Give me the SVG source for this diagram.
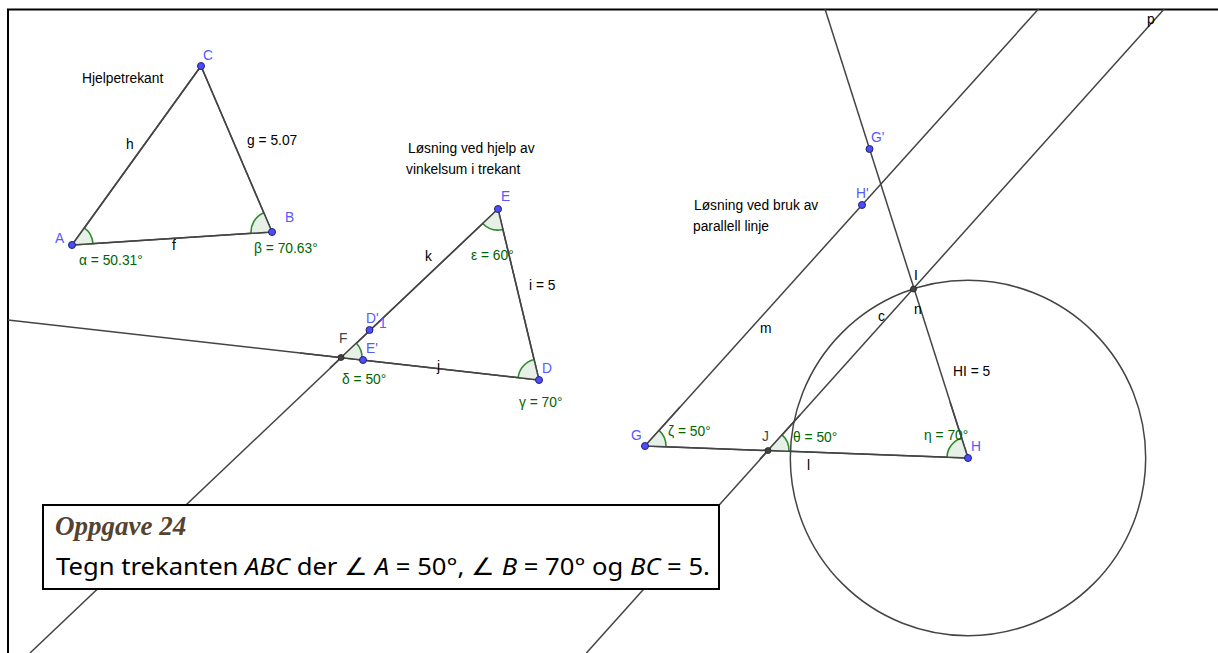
<svg xmlns="http://www.w3.org/2000/svg" width="1218" height="653" viewBox="0 0 1218 653">
<style>
.ln{stroke:#444;stroke-width:1.5;fill:none}
.sec{fill:#e6f0e6;stroke:none}
.arc{fill:none;stroke:#2e8b2e;stroke-width:1.6}
.pt{fill:#4d4dff;stroke:#22226a;stroke-width:1}
.dp{fill:#444;stroke:#222;stroke-width:0.8}
text{font-family:"Liberation Sans",Arial,sans-serif;font-size:13.8px}
.bl{fill:#5858ff}
.gr{fill:#006400}
.bk{fill:#000}
.dk{fill:#444}
</style>
<rect width="1218" height="653" fill="#fff"/>
<path d="M8,653 L8,9.5 L1218,9.5" fill="none" stroke="#000" stroke-width="2"/>
<g id="connectors">
<line class="ln" x1="72" y1="245" x2="272" y2="232"/>
<line class="ln" x1="72" y1="245" x2="201" y2="66"/>
<line class="ln" x1="272" y1="232" x2="201" y2="66"/>
<line class="ln" x1="8" y1="320" x2="539" y2="380"/>
<line class="ln" x1="498" y1="209" x2="30" y2="653"/>
<line class="ln" x1="498" y1="209" x2="539" y2="380"/>
<line class="ln" x1="645" y1="446" x2="968" y2="458"/>
<line class="ln" x1="645" y1="446" x2="1038.5" y2="9"/>
<line class="ln" x1="586.4" y1="653" x2="1164.2" y2="9"/>
<line class="ln" x1="825" y1="9" x2="968" y2="458"/>
<circle class="ln" cx="968" cy="458" r="177.7"/>
</g>
<g id="angles">
<path class="sec" d="M72,245 L92.96,243.74 A21,21 0 0 0 84.29,227.97 Z"/><path class="arc" d="M92.96,243.74 A21,21 0 0 0 84.29,227.97"/>
<path class="sec" d="M272,232 L251.04,233.36 A21,21 0 0 1 263.74,212.68 Z"/><path class="arc" d="M251.04,233.36 A21,21 0 0 1 263.74,212.68"/>
<path class="sec" d="M341,357.5 L361.86,359.87 A21,21 0 0 0 356.26,343.07 Z"/><path class="arc" d="M361.86,359.87 A21,21 0 0 0 356.26,343.07"/>
<path class="sec" d="M539,380 L518.14,377.63 A21,21 0 0 1 534.10,359.58 Z"/><path class="arc" d="M518.14,377.63 A21,21 0 0 1 534.10,359.58"/>
<path class="sec" d="M498,209 L482.74,223.43 A21,21 0 0 0 502.90,229.42 Z"/><path class="arc" d="M482.74,223.43 A21,21 0 0 0 502.90,229.42"/>
<path class="sec" d="M645,446 L665.99,446.78 A21,21 0 0 0 659.05,430.39 Z"/><path class="arc" d="M665.99,446.78 A21,21 0 0 0 659.05,430.39"/>
<path class="sec" d="M768,450.6 L788.99,451.38 A21,21 0 0 0 782.03,434.97 Z"/><path class="arc" d="M788.99,451.38 A21,21 0 0 0 782.03,434.97"/>
<path class="sec" d="M968,458 L947.01,457.22 A21,21 0 0 1 961.50,438.03 Z"/><path class="arc" d="M947.01,457.22 A21,21 0 0 1 961.50,438.03"/>
</g>
<g id="connectors-top">
<line class="ln" x1="72" y1="245" x2="272" y2="232"/>
<line class="ln" x1="72" y1="245" x2="201" y2="66"/>
<line class="ln" x1="272" y1="232" x2="201" y2="66"/>
<line class="ln" x1="300" y1="353" x2="539" y2="380"/>
<line class="ln" x1="498" y1="209" x2="330" y2="368"/>
<line class="ln" x1="498" y1="209" x2="539" y2="380"/>
<line class="ln" x1="645" y1="446" x2="968" y2="458"/>
<line class="ln" x1="645" y1="446" x2="680" y2="407"/>
<line class="ln" x1="760" y1="459" x2="800" y2="415"/>
<line class="ln" x1="950" y1="402" x2="968" y2="458"/>
</g>
<g id="box">
<rect x="43" y="505" width="676" height="84" fill="#fff" stroke="#000" stroke-width="2"/>
<text x="55" y="535" style="font-family:'Liberation Serif','Times New Roman',serif;font-size:27px;font-weight:bold;font-style:italic;fill:#54432f">Oppgave 24</text>
<text x="56" y="575" textLength="654" lengthAdjust="spacingAndGlyphs" style="font-family:'Noto Sans',sans-serif;font-size:23.5px;fill:#000">Tegn trekanten <tspan font-style="italic">ABC</tspan> der ∠ <tspan font-style="italic">A</tspan> = 50°, ∠ <tspan font-style="italic">B</tspan> = 70° og <tspan font-style="italic">BC</tspan> = 5.</text>
</g>
<g id="node-A"><circle class="pt" cx="72" cy="245" r="3.5"/><text class="bl" x="55" y="243">A</text><text class="gr" x="79" y="265">α = 50.31°</text></g>
<g id="node-B"><circle class="pt" cx="272" cy="232" r="3.5"/><text class="bl" x="285" y="222">B</text><text class="gr" x="254" y="253">β = 70.63°</text></g>
<g id="node-C"><circle class="pt" cx="201" cy="66" r="3.5"/><text class="bl" x="203" y="60">C</text></g>
<g id="labels-ABC"><text class="bk" x="82" y="83">Hjelpetrekant</text><text class="bk" x="126" y="149">h</text><text class="bk" x="247" y="145">g = 5.07</text><text class="bk" x="172" y="250">f</text></g>
<g id="node-E"><circle class="pt" cx="498" cy="209" r="3.5"/><text class="bl" x="501" y="201">E</text><text class="gr" x="471" y="260">ε = 60°</text></g>
<g id="node-D"><circle class="pt" cx="539" cy="380" r="3.5"/><text class="bl" x="542" y="373">D</text><text class="gr" x="519" y="407">γ = 70°</text></g>
<g id="node-F"><circle class="dp" cx="341" cy="357.5" r="3"/><text class="dk" x="339" y="343">F</text><text class="gr" x="342" y="384">δ = 50°</text></g>
<g id="node-D1"><circle class="pt" cx="369.5" cy="330" r="3.5"/><text class="bl" x="366" y="323">D'</text><text class="bl" x="379" y="328">1</text></g>
<g id="node-E1"><circle class="pt" cx="363" cy="360" r="3.5"/><text class="bl" x="366" y="353">E'</text></g>
<g id="labels-DEF"><text class="bk" x="408" y="153">Løsning ved hjelp av</text><text class="bk" x="406" y="174">vinkelsum i trekant</text><text class="bk" x="425" y="261">k</text><text class="bk" x="529" y="290">i = 5</text><text class="bk" x="437" y="371">j</text></g>
<g id="node-G"><circle class="pt" cx="645" cy="446" r="3.5"/><text class="bl" x="631" y="440">G</text><text class="gr" x="668" y="436">ζ = 50°</text></g>
<g id="node-H"><circle class="pt" cx="968" cy="458" r="3.5"/><text class="bl" x="971" y="451">H</text><text class="gr" x="924" y="440">η = 70°</text></g>
<g id="node-J"><circle class="dp" cx="768" cy="450.6" r="3"/><text class="dk" x="762" y="441">J</text><text class="gr" x="793" y="442">θ = 50°</text></g>
<g id="node-I"><circle class="dp" cx="913.5" cy="289" r="3"/><text class="bk" x="914" y="280">I</text></g>
<g id="node-H1"><circle class="pt" cx="862" cy="205" r="3.5"/><text class="bl" x="856" y="198">H'</text></g>
<g id="node-G1"><circle class="pt" cx="869.5" cy="149" r="3.5"/><text class="bl" x="871" y="142">G'</text></g>
<g id="labels-GHI"><text class="bk" x="694" y="210">Løsning ved bruk av</text><text class="bk" x="693" y="231">parallell linje</text><text class="bk" x="760" y="333">m</text><text class="bk" x="878" y="321">c</text><text class="bk" x="914" y="314">n</text><text class="bk" x="953" y="376">HI = 5</text><text class="bk" x="807" y="470">l</text><text class="bk" x="1147" y="24">p</text></g>
</svg>
